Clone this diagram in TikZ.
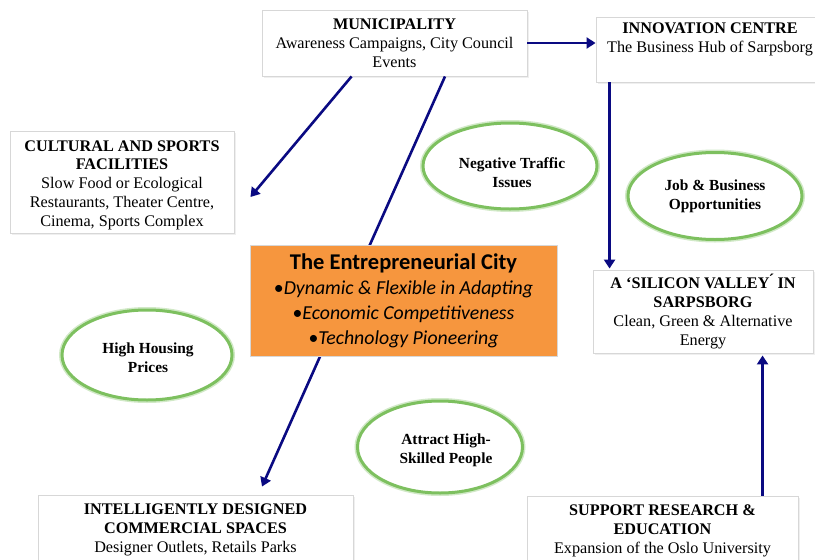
\documentclass[tikz,border=0pt]{standalone}
\usepackage{fontspec}
\setmainfont{Liberation Serif}
\newfontfamily\calibri{Carlito}
\usetikzlibrary{arrows.meta,shapes.geometric,shadows,calc}
\definecolor{navyarrow}{RGB}{10,10,130}
\definecolor{ovalgreen}{RGB}{125,192,95}
\definecolor{boxorange}{RGB}{246,150,62}
\definecolor{boxline}{RGB}{215,215,215}
\newcommand{\cityitem}[1]{{\itshape\fontsize{19.8}{25}\selectfont \textup{•}#1}}
\tikzset{
  infobox/.style={draw=boxline, line width=0.9pt, fill=white, align=center,
    inner sep=0pt, font=\fontsize{16.2}{18.8}\selectfont,
    drop shadow={shadow xshift=1.5pt, shadow yshift=-1.5pt, opacity=0.12}},
  citybox/.style={draw=boxline, line width=0.8pt, fill=boxorange, align=center,
    inner sep=0pt, font=\calibri\fontsize{19.8}{25}\selectfont},
  oval/.style={ellipse, draw=ovalgreen, line width=3pt, fill=white, inner sep=0pt},
  ovaltext/.style={align=center, inner sep=0pt, font=\bfseries\fontsize{15.4}{19}\selectfont},
  halo/.style={ellipse, draw=ovalgreen!35, line width=6pt, inner sep=0pt},
  arr/.style={draw=navyarrow, line width=2.6pt,
    -{Triangle[length=9pt,width=11pt]}},
}
\begin{document}
\begin{tikzpicture}[x=1pt,y=-1pt]
\useasboundingbox (0,0) rectangle (815,560);
\fill[white] (0,0) rectangle (815,560);

% boxes
\node[infobox, minimum width=265, minimum height=66] (muni) at (394.5,43)
  {\textbf{MUNICIPALITY}\\Awareness Campaigns, City Council\\Events};
\node[infobox, minimum width=228, minimum height=65] (innov) at (710,49.5)
  {\textbf{INNOVATION CENTRE}\\The Business Hub of Sarpsborg\\\strut};
\node[infobox, minimum width=224, minimum height=102] (cult) at (122,182)
  {\rule{0pt}{17pt}\textbf{CULTURAL AND SPORTS}\\\textbf{FACILITIES}\\Slow Food or Ecological\\Restaurants, Theater Centre,\\Cinema, Sports Complex};
\node[infobox, minimum width=220, minimum height=83] (sil) at (703,311.5)
  {\textbf{A `SILICON VALLEY\'{} IN}\\\textbf{SARPSBORG}\\Clean, Green \& Alternative\\Energy};
\node[infobox, minimum width=315, minimum height=70] (intel) at (195.5,530)
  {\textbf{INTELLIGENTLY DESIGNED}\\\textbf{COMMERCIAL SPACES}\\Designer Outlets, Retails Parks};
\node[infobox, minimum width=271, minimum height=70] (supp) at (662.5,531)
  {\textbf{SUPPORT RESEARCH \&}\\\textbf{EDUCATION}\\Expansion of the Oslo University};

% connector passing behind the central box
\draw[arr] ($(muni.south)+(50.5,0)$) -- ($(intel.north)+(66.5,-8)$);

% central box
\node[citybox, minimum width=307, minimum height=111] (city) at (403.5,300.5)
  {\textbf{\fontsize{22.5}{25}\selectfont The Entrepreneurial City}\\
   \cityitem{Dynamic \& Flexible in Adapting}\\
   \cityitem{Economic Competitiveness}\\
   \cityitem{Technology Pioneering}};

% other connectors
\draw[arr] ($(muni.south west)+(90,0)$) -- ($(cult.east)+(16,15)$);
\draw[arr] (muni.east) -- (muni.east -| innov.west);
\coordinate (vtop) at ($(innov.south west)+(14,0)$);
\draw[arr] (vtop) -- ($(vtop |- sil.north)+(0,-1)$);
\coordinate (vbot) at ($(supp.north west)+(236,0)$);
\draw[arr] (vbot) -- ($(vbot |- sil.south)+(0,2)$);

% ovals
\node[halo, minimum width=174, minimum height=86] at (510,166) {};
\node[oval, minimum width=174, minimum height=86] (traffic) at (510,166) {};
\node[ovaltext] (traffictext) at ($(traffic)+(2,7)$) {Negative Traffic\\Issues};
\node[halo, minimum width=174, minimum height=87] at (715,196) {};
\node[oval, minimum width=174, minimum height=87] (job) at (715,196) {};
\node[ovaltext] (jobtext) at (job) {Job \& Business\\Opportunities};
\node[halo, minimum width=170, minimum height=90] at (147,355) {};
\node[oval, minimum width=170, minimum height=90] (housing) at (147,355) {};
\node[ovaltext] (housingtext) at ($(housing)+(1,3)$) {High Housing\\Prices};
\node[halo, minimum width=165, minimum height=92] at (440,447) {};
\node[oval, minimum width=165, minimum height=92] (skilled) at (440,447) {};
\node[ovaltext] (skilledtext) at ($(skilled)+(6,3)$) {Attract High-\\Skilled People};
\end{tikzpicture}
\end{document}
